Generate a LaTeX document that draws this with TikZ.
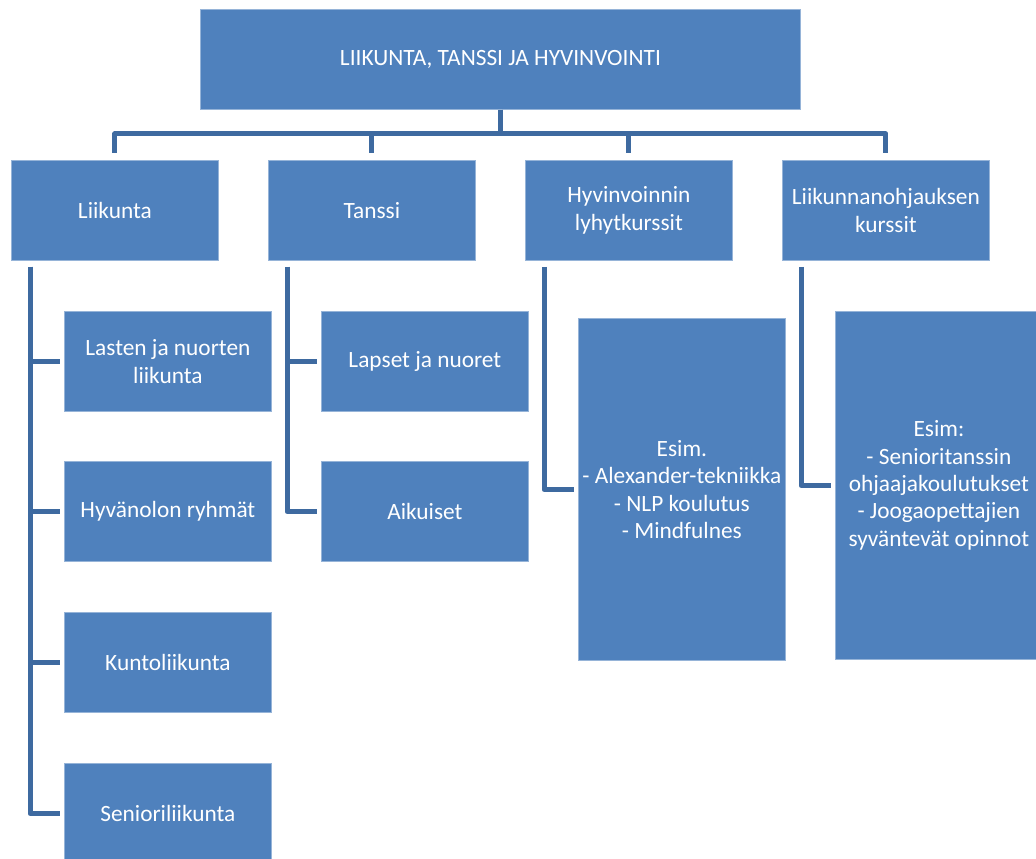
\documentclass[tikz,border=0pt]{standalone}
\usepackage{fontspec}
\setmainfont{Carlito}
\usetikzlibrary{calc}
\definecolor{boxblue}{RGB}{79,129,189}
\definecolor{boxedge}{RGB}{150,180,216}
\definecolor{linkblue}{RGB}{62,106,160}
\begin{document}
\begin{tikzpicture}[x=0.75pt,y=-0.75pt,
  box/.style={draw=boxedge,line width=0.6pt,fill=boxblue,text=white,align=center,
    font=\fontsize{17.5}{20.5}\selectfont,inner sep=0pt,
    minimum width=155.25pt,minimum height=75pt,anchor=north west},
  conn/.style={draw=linkblue,line width=3.75pt,line join=round}]
\useasboundingbox[fill=white] (0,0) rectangle (1036,859);
% top
\node[box,minimum width=450pt] (top) at (200,9) {LIIKUNTA, TANSSI JA HYVINVOINTI};
% level 1
\node[box] (liik) at (11,160) {Liikunta};
\node[box] (tans) at (268,160) {Tanssi};
\node[box] (hyv) at (525,160) {Hyvinvoinnin\\lyhytkurssit};
\node[box] (ohj) at (782,160) {Liikunnanohjauksen\\kurssit};
% liikunta children
\node[box] (l1) at (64,311) {Lasten ja nuorten\\liikunta};
\node[box] (l2) at (64,461) {Hyvänolon ryhmät};
\node[box] (l3) at (64,612) {Kuntoliikunta};
\node[box] (l4) at (64,763) {Senioriliikunta};
% tanssi children
\node[box] (t1) at (321,311) {Lapset ja nuoret};
\node[box] (t2) at (321,461) {Aikuiset};
% hyvinvointi child
\node[box,minimum height=256.5pt] (h1) at (578,318) {Esim.\\- Alexander-tekniikka\\- NLP koulutus\\- Mindfulnes};
% ohjaus child
\node[box,minimum height=261pt] (o1) at (835,311) {Esim:\\- Senioritanssin\\ohjaajakoulutukset\\- Joogaopettajien\\syväntevät opinnot};
% top connectors
\foreach \n in {liik,tans,hyv,ohj}{
  \draw[conn] (top.south) -- ++(0,24) -| ($(\n.north)+(0,-7)$);
}
% child connectors
\foreach \p/\c in {liik/l1,liik/l2,liik/l3,liik/l4,tans/t1,tans/t2,hyv/h1,ohj/o1}{
  \draw[conn] ($(\p.south west)+(19,6)$) |- ($(\c.west)+(-4,0)$);
}
\end{tikzpicture}
\end{document}
